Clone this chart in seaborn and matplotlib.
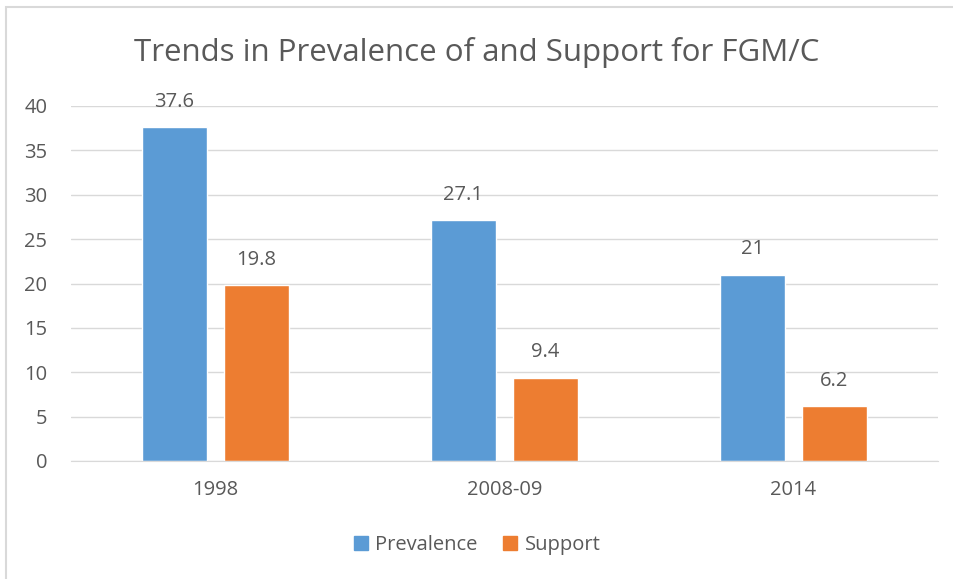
import seaborn as sns
import pandas as pd
import matplotlib.pyplot as plt
from matplotlib.patches import Rectangle
from matplotlib.lines import Line2D

years = ["1998", "2008-09", "2014"]
prevalence = [37.6, 27.1, 21]
support = [19.8, 9.4, 6.2]
series = ["Prevalence", "Support"]
colors = ["#5B9BD5", "#ED7D31"]

df = pd.DataFrame({
    "year": years * 2,
    "value": prevalence + support,
    "series": [series[0]] * 3 + [series[1]] * 3,
})

sns.set_style("white")
plt.rcParams["font.family"] = ["Open Sans", "DejaVu Sans"]
text_col = "#595959"

fig = plt.figure(figsize=(9.54, 5.79), dpi=100)
ax = fig.add_axes([71 / 954, 1 - 461 / 579, (938 - 71) / 954, (461 - 106) / 579])

sns.barplot(data=df, x="year", y="value", hue="series", palette=colors,
            width=0.568, gap=0.208, saturation=1, ax=ax, legend=False)

for cont in ax.containers:
    ax.bar_label(cont, labels=[f"{v:g}" for v in cont.datavalues],
                 padding=11, fontsize=14.5, color=text_col)

ax.set_ylim(0, 40)
ax.set_yticks(range(0, 41, 5))
ax.set_xlim(-0.5, 2.5)
ax.yaxis.grid(True, color="#D9D9D9", linewidth=1)
ax.set_axisbelow(True)
for s in ["top", "right", "left"]:
    ax.spines[s].set_visible(False)
ax.spines["bottom"].set_color("#D9D9D9")
ax.tick_params(axis="both", length=0, labelsize=14.5, labelcolor=text_col)
ax.tick_params(axis="y", pad=17)
ax.tick_params(axis="x", pad=14)
ax.set_xlabel("")
ax.set_ylabel("")

fig.text(0.5, 1 - 52 / 579, "Trends in Prevalence of and Support for FGM/C",
         ha="center", va="center", fontsize=22.5, color=text_col)

handles = [Line2D([], [], marker="s", linestyle="", markersize=10,
                  markerfacecolor=c, markeredgecolor=c) for c in colors]
fig.legend(handles, series, loc="center", bbox_to_anchor=(0.5, 1 - 545 / 579),
           ncol=2, frameon=False, fontsize=14.5, labelcolor=text_col,
           handlelength=0.7, handletextpad=0.35, columnspacing=1.3)

fig.patches.append(Rectangle((6 / 954, -0.1), 1.2, 1 - 7 / 579 + 0.1,
                             transform=fig.transFigure, fill=False,
                             edgecolor="#D9D9D9", linewidth=1.5))

fig.savefig("out.png", dpi=100)
